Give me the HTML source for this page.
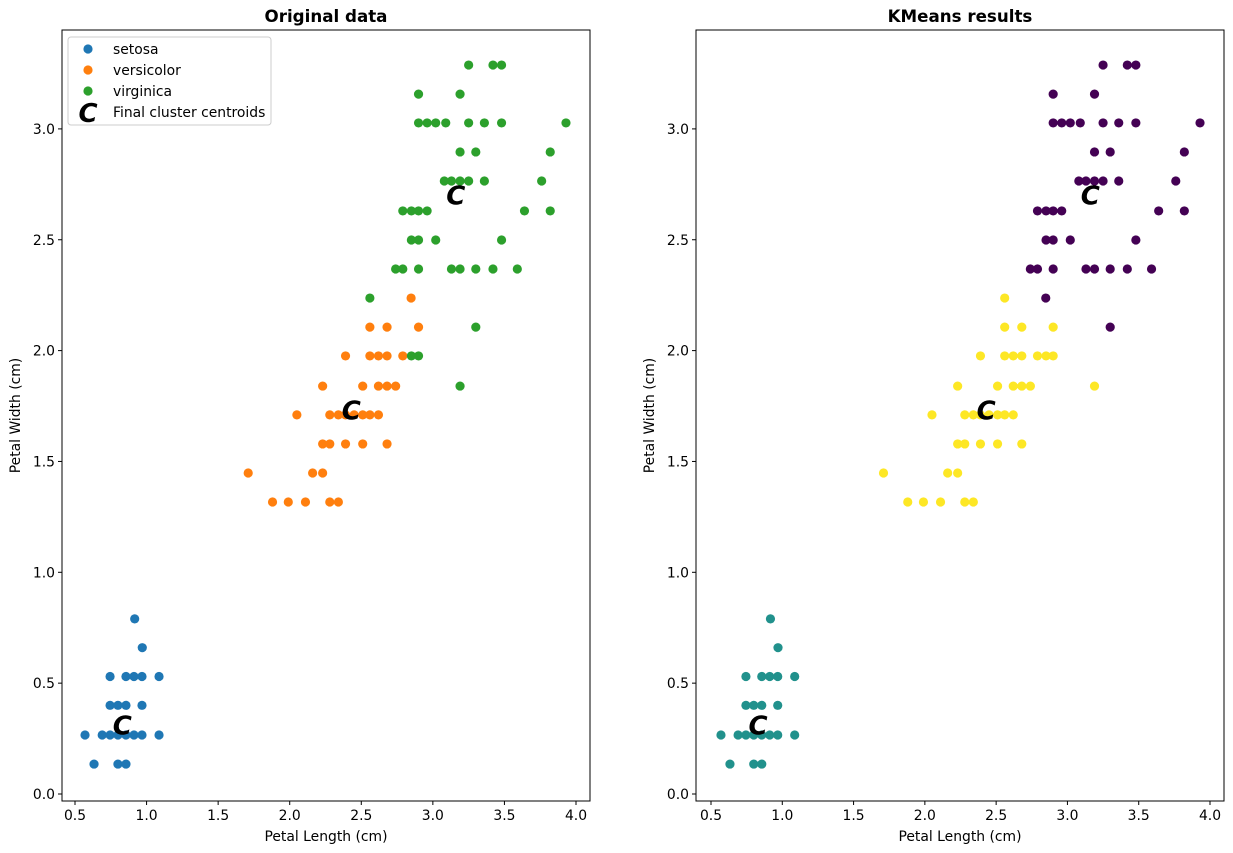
<!DOCTYPE html>
<html><head><meta charset="utf-8"><style>body{margin:0;background:#fff}svg{display:block;font-family:"DejaVu Sans","Liberation Sans",sans-serif}</style></head>
<body>
<svg id="c" width="1233" height="853" xmlns="http://www.w3.org/2000/svg"></svg>
<script>
const xTicks=[0.5,1.0,1.5,2.0,2.5,3.0,3.5,4.0];
const yTicks=[0.0,0.5,1.0,1.5,2.0,2.5,3.0];
const setosa=[[0.917,0.79],[0.97,0.66],[0.745,0.53],[0.856,0.53],[0.912,0.53],[0.968,0.53],[1.087,0.53],[0.745,0.40],[0.80,0.40],[0.856,0.40],[0.968,0.40],[0.57,0.266],[0.69,0.266],[0.745,0.266],[0.80,0.266],[0.856,0.266],[0.912,0.266],[0.968,0.266],[1.087,0.266],[0.633,0.135],[0.80,0.135],[0.856,0.135]];
const versicolor=[[2.848,2.237],[2.56,2.106],[2.68,2.106],[2.90,2.106],[2.39,1.976],[2.56,1.976],[2.62,1.976],[2.68,1.976],[2.79,1.976],[2.23,1.84],[2.51,1.84],[2.62,1.84],[2.68,1.84],[2.74,1.84],[2.05,1.71],[2.28,1.71],[2.34,1.71],[2.39,1.71],[2.45,1.71],[2.51,1.71],[2.56,1.71],[2.62,1.71],[2.23,1.579],[2.28,1.579],[2.39,1.579],[2.51,1.579],[2.68,1.579],[1.71,1.448],[2.16,1.448],[2.23,1.448],[1.88,1.317],[1.99,1.317],[2.11,1.317],[2.28,1.317],[2.34,1.317]];
const virginica=[[3.25,3.288],[3.42,3.288],[3.48,3.288],[2.90,3.157],[3.19,3.157],[2.90,3.027],[2.96,3.027],[3.02,3.027],[3.09,3.027],[3.25,3.027],[3.36,3.027],[3.48,3.027],[3.93,3.027],[3.19,2.896],[3.30,2.896],[3.82,2.896],[3.08,2.765],[3.13,2.765],[3.19,2.765],[3.25,2.765],[3.36,2.765],[3.76,2.765],[2.79,2.63],[2.85,2.63],[2.90,2.63],[2.96,2.63],[3.64,2.63],[3.82,2.63],[2.85,2.499],[2.90,2.499],[3.02,2.499],[3.48,2.499],[2.74,2.368],[2.79,2.368],[2.90,2.368],[3.13,2.368],[3.19,2.368],[3.30,2.368],[3.42,2.368],[3.59,2.368],[2.56,2.237],[3.30,2.106],[2.85,1.976],[2.90,1.976],[3.19,1.84]];
const centroids=[[0.83,0.31],[2.43,1.73],[3.16,2.70]];
const NS="http://www.w3.org/2000/svg";const svg=document.getElementById('c');
function mk(t,a,p){const e=document.createElementNS(NS,t);for(const k in a)e.setAttribute(k,a[k]);(p||svg).appendChild(e);return e;}
function cluster(p,sp){if(sp==='setosa')return '#21918c';if(sp==='versicolor'){return (p[0]>2.8&&p[1]>2.2)?'#440154':'#fde725';}
 if((p[1]<2.25&&!(p[0]>3.25&&p[1]>2.0&&p[1]<2.2))||(p[1]<2.0))return '#fde725';return '#440154';}
function panel(L,R,x0,x1,title,mode,nm){
 const T=30,B=801;const sx=v=>x0+(v-0.5)*(x1-x0)/3.5;const sy=v=>794-v*221.7;
 const g=mk('g',{});
 const t=mk('text',{x:(L+R)/2,y:22,'text-anchor':'middle','font-size':16.7,'font-weight':'bold'},g);t.textContent=title;
 const groups=[['setosa',setosa,'#1f77b4'],['versicolor',versicolor,'#ff7f0e'],['virginica',virginica,'#2ca02c']];
 for(const [n,arr,col] of groups){for(const p of arr){const c=mk('circle',{cx:sx(p[0]),cy:sy(p[1]),r:4.6,fill:mode?cluster(p,n):col},g);
 }}
 for(const p of centroids){const c=mk('text',{x:sx(p[0]),y:sy(p[1])+9,'text-anchor':'middle','font-size':26,'font-weight':'bold','font-style':'italic','font-family':'DejaVu Sans'},g);c.textContent='C';
 }
 mk('rect',{x:L,y:T,width:R-L,height:B-T,fill:'none',stroke:'#000','stroke-width':1},g);
 for(const v of xTicks){const x=sx(v);mk('line',{x1:x,x2:x,y1:B,y2:B+4,stroke:'#000'},g);const l=mk('text',{x:x,y:B+19,'text-anchor':'middle','font-size':13.9},g);l.textContent=v.toFixed(1);
 }
 for(const v of yTicks){const y=sy(v);mk('line',{x1:L,x2:L-4,y1:y,y2:y,stroke:'#000'},g);const l=mk('text',{x:L-7,y:y+5,'text-anchor':'end','font-size':13.9},g);l.textContent=v.toFixed(1);
 }
 const xl=mk('text',{x:(L+R)/2,y:841,'text-anchor':'middle','font-size':13.9},g);xl.textContent='Petal Length (cm)';
 const yl=mk('text',{x:0,y:0,'text-anchor':'middle','font-size':13.9,transform:`translate(${L-42},${(T+B)/2}) rotate(-90)`},g);yl.textContent='Petal Width (cm)';
}
panel(62,590,75,576,'Original data',0,'original-data-panel');
panel(696,1224,711,1210,'KMeans results',1,'kmeans-results-panel');
const lg=mk('g',{});
mk('rect',{x:68,y:37,width:203,height:88,rx:3,fill:'#fff','fill-opacity':0.8,stroke:'#ccc'},lg);
const ents=[['setosa','#1f77b4'],['versicolor','#ff7f0e'],['virginica','#2ca02c']];
ents.forEach((e,i)=>{const y=49+i*21;mk('circle',{cx:88,cy:y,r:4.6,fill:e[1]},lg);const t=mk('text',{x:113,y:y+5,'font-size':13.9},lg);t.textContent=e[0];
});
const cm=mk('text',{x:88,y:122,'text-anchor':'middle','font-size':26,'font-weight':'bold','font-style':'italic','font-family':'DejaVu Sans'},lg);cm.textContent='C';
const ct=mk('text',{x:113,y:117,'font-size':13.9},lg);ct.textContent='Final cluster centroids';
</script>
</body></html>
